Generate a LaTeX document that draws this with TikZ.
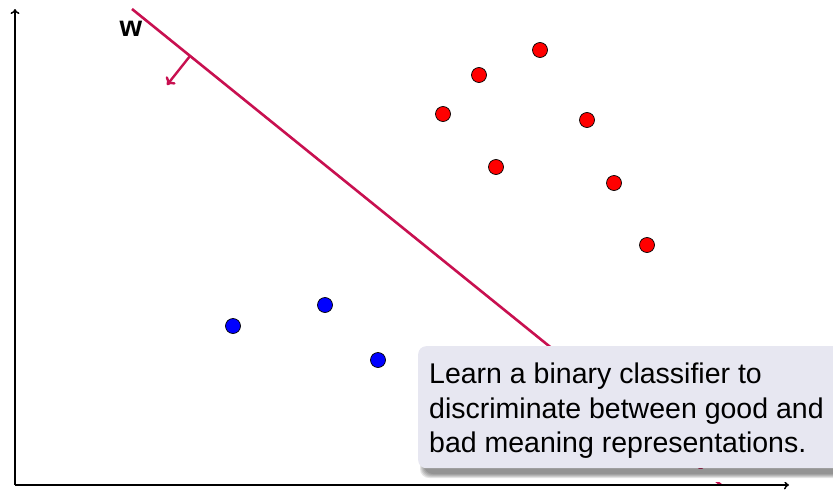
\documentclass[tikz,border=0pt]{standalone}
\usepackage{fontspec}
\setmainfont{Liberation Sans}
\usetikzlibrary{arrows.meta}
\definecolor{sepcol}{RGB}{200,16,80}
\definecolor{boxfill}{RGB}{231,231,241}
\begin{document}
\begin{tikzpicture}[x=1pt,y=-1pt,
  axis/.style={line width=1.5pt,-{To[length=5pt,width=9pt]}},
  sepline/.style={sepcol,line width=2.6pt},
  sepnormal/.style={sepcol,line width=2.4pt,-{To[length=7pt,width=12pt]}},
  pospt/.style={circle,draw=black,line width=0.7pt,fill=red,minimum size=15pt,inner sep=0pt},
  negpt/.style={circle,draw=black,line width=0.7pt,fill=blue,minimum size=15pt,inner sep=0pt},
  notebox/.style={rectangle,rounded corners=8pt,fill=boxfill,inner sep=0pt},
  notetext/.style={inner sep=0pt,align=left,font=\fontsize{28.5}{34.8}\selectfont},
  wlabel/.style={font=\bfseries\fontsize{29}{32}\selectfont,inner sep=0pt}]
\useasboundingbox (0,0) rectangle (833,490);
\clip (0,0) rectangle (833,490);
% axes
\coordinate (o) at (15,485);
\coordinate (yt) at (15,9);
\coordinate (xt) at (789,485);
\draw[axis] (o) -- (yt);
% separating hyperplane
\coordinate (ls) at (132,9);
\coordinate (le) at (721,485);
\draw[sepline] (ls) -- (le);
\draw[axis] (o) -- (xt);
\coordinate (nb) at (190,56);
\coordinate (nt) at (167,85);
\draw[sepnormal] (nb) -- (nt);
\node[wlabel,anchor=base] (wlab) at (131,36) {w};
% points
\node[pospt] (r1) at (540,50) {};
\node[pospt] (r2) at (479,75) {};
\node[pospt] (r3) at (443,114) {};
\node[pospt] (r4) at (587,120) {};
\node[pospt] (r5) at (496,167) {};
\node[pospt] (r6) at (614,183) {};
\node[pospt] (r7) at (647,245) {};
\node[negpt] (b1) at (233,326) {};
\node[negpt] (b2) at (325,305) {};
\node[negpt] (b3) at (378,360) {};
% note box with shadow
\fill[white] (410,469) rectangle (833,482);
\foreach \s in {0,1,2,3,4}
  \fill[black,opacity=0.10,rounded corners=9pt] (424-\s,354-\s) rectangle (880+\s,474+\s);
\node[notebox,anchor=north west,minimum width=440pt,minimum height=122pt] (note) at (418,346) {};
\node[notetext,anchor=north west] (txt) at (429,362.5) {Learn a binary classifier to\\discriminate between good and\\bad meaning representations.};
\end{tikzpicture}
\end{document}
